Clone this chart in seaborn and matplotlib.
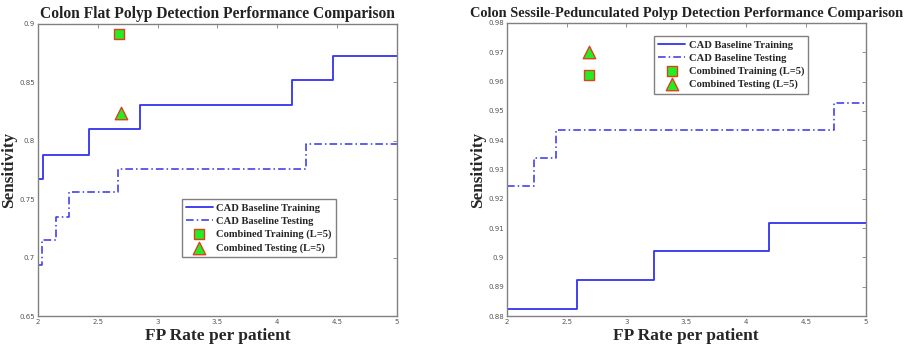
import matplotlib
matplotlib.use("Agg")
import matplotlib.pyplot as plt
import seaborn as sns

# Flat polyp panel
flat_train_fp = [2.0, 2.04, 2.425, 2.85, 4.12, 4.47, 5.0]
flat_train_sens = [0.767, 0.788, 0.810, 0.831, 0.852, 0.873, 0.873]
flat_test_fp = [2.0, 2.03, 2.15, 2.26, 2.67, 4.24, 5.0]
flat_test_sens = [0.694, 0.715, 0.735, 0.756, 0.776, 0.797, 0.797]
flat_comb_train = (2.68, 0.891)
flat_comb_test = (2.69, 0.824)

# Sessile-pedunculated panel
sp_train_fp = [2.0, 2.59, 3.23, 4.19, 5.0]
sp_train_sens = [0.8825, 0.8923, 0.9022, 0.9119, 0.9119]
sp_test_fp = [2.0, 2.23, 2.41, 4.74, 5.0]
sp_test_sens = [0.9244, 0.934, 0.9436, 0.9528, 0.9528]
sp_comb_train = (2.69, 0.9623)
sp_comb_test = (2.69, 0.9701)

titles = ["Colon Flat Polyp Detection Performance Comparison",
          "Colon Sessile-Pedunculated Polyp Detection Performance Comparison"]
labels = ["CAD Baseline Training", "CAD Baseline Testing",
          "Combined Training (L=5)", "Combined Testing (L=5)"]

sns.set_style("white")
plt.rcParams["font.family"] = ["DejaVu Sans"]

blue = "#3333ee"
green = "#22ee22"
red = "#e04020"
gray = "#808080"
serif = ["Liberation Serif", "DejaVu Serif"]

fig = plt.figure(figsize=(9.13, 3.46), dpi=100)
ax1 = fig.add_axes([0.0416, 0.0867, 0.393, 0.844])
ax2 = fig.add_axes([0.555, 0.0867, 0.393, 0.847])

panels = [
    (ax1, flat_train_fp, flat_train_sens, flat_test_fp, flat_test_sens,
     flat_comb_train, flat_comb_test, (0.65, 0.9),
     [0.65, 0.7, 0.75, 0.8, 0.85, 0.9], (0.40, 0.40), 11.2),
    (ax2, sp_train_fp, sp_train_sens, sp_test_fp, sp_test_sens,
     sp_comb_train, sp_comb_test, (0.88, 0.98),
     [0.88, 0.89, 0.9, 0.91, 0.92, 0.93, 0.94, 0.95, 0.96, 0.97, 0.98],
     (0.41, 0.955), 10.4),
]

for i, (ax, trx, trs, tex, tes, ctr, cte, ylim, yticks, lpos, tsize) in enumerate(panels):
    sns.lineplot(x=trx, y=trs, ax=ax, color=blue, lw=1.3, estimator=None,
                 drawstyle="steps-post", label=labels[0])
    sns.lineplot(x=tex, y=tes, ax=ax, color=blue, lw=1.1, estimator=None,
                 drawstyle="steps-post", dashes=False, label=labels[1])
    ax.lines[1].set_dashes([5, 2, 1, 2])
    sns.scatterplot(x=[ctr[0]], y=[ctr[1]], ax=ax, marker="s", s=50,
                    color=green, edgecolor=red, linewidth=1, label=labels[2])
    sns.scatterplot(x=[cte[0]], y=[cte[1]], ax=ax, marker="^", s=80,
                    color=green, edgecolor=red, linewidth=1, label=labels[3])

    ax.set_xlim(2, 5)
    ax.set_ylim(*ylim)
    ax.set_xticks([2, 2.5, 3, 3.5, 4, 4.5, 5])
    ax.set_xticklabels(["2", "2.5", "3", "3.5", "4", "4.5", "5"])
    ax.set_yticks(yticks)
    ax.set_yticklabels([f"{v:g}" for v in yticks])
    ax.tick_params(direction="in", length=3, width=0.6, colors=gray,
                   labelsize=5, top=True, right=True, pad=2, labelcolor="#555555")
    for sp in ax.spines.values():
        sp.set_color(gray)
        sp.set_linewidth(1.0)

    ax.set_title(titles[i], fontsize=tsize, fontweight="bold", family=serif,
                 pad=4, color="#222222")
    ax.set_xlabel("FP Rate per patient", fontsize=12.5, fontweight="bold",
                  family=serif, labelpad=2)
    ax.set_ylabel("Sensitivity", fontsize=12.3, fontweight="bold",
                  family=serif)
    ax.yaxis.set_label_coords(-0.057, 0.5)

    leg = ax.legend(loc="upper left", bbox_to_anchor=lpos,
                    fancybox=False, framealpha=1, borderaxespad=0,
                    prop={"family": serif, "weight": "bold", "size": 7.6},
                    handlelength=2.6, handletextpad=0.3, labelspacing=0.35,
                    borderpad=0.4)
    leg.get_frame().set_edgecolor(gray)
    leg.get_frame().set_linewidth(1.0)

fig.savefig("out.png", dpi=100)
